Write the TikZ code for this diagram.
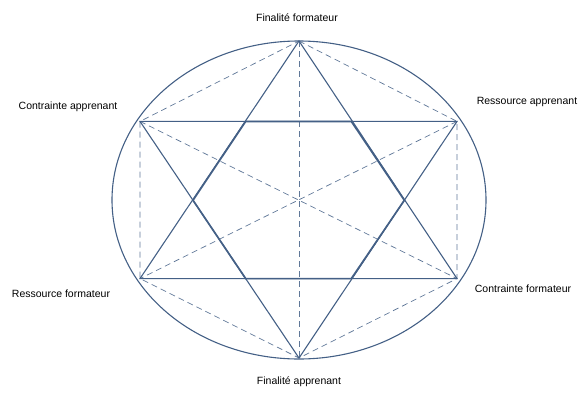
\documentclass[tikz,border=0pt]{standalone}
\usepackage{fontspec}
\setmainfont{Liberation Sans}
\usetikzlibrary{calc}
\usetikzlibrary{positioning}
\definecolor{steel}{RGB}{68,96,134}

\begin{document}
\begin{tikzpicture}[x=1pt, y=-1pt,
	lbl/.style = {font=\fontsize{10.5}{12}\selectfont, text=black, inner sep=1pt},
	tri/.style = {draw=steel, line width=1.1pt},
	hexa/.style = {draw=steel, line width=1.7pt},
	aux/.style = {draw=steel!85, line width=0.7pt, dash pattern=on 6pt off 4pt}
	]
	\useasboundingbox (0,0) rectangle (582,394);
	
	% === === Nodes === ===
	\coordinate	(ctr)	at	(299, 200);
	\coordinate	(top)	at	(299, 41);
	\coordinate	(bot)	at	(299, 358);
	\coordinate	(ul)	at	(140, 121.4);
	\coordinate	(ur)	at	(457, 121.4);
	\coordinate	(ll)	at	(140, 278.6);
	\coordinate	(lr)	at	(457, 278.6);
	
	\coordinate	(h1)	at	($(ul)!1/3!(ur)$);
	\coordinate	(h2)	at	($(ul)!2/3!(ur)$);
	\coordinate	(h3)	at	($(ur)!1/3!(bot)$);
	\coordinate	(h4)	at	($(ll)!2/3!(lr)$);
	\coordinate	(h5)	at	($(ll)!1/3!(lr)$);
	\coordinate	(h6)	at	($(ul)!1/3!(bot)$);
	
	\node[lbl]	(ftop)	at	(297, 18)	{Finalité formateur};
	\node[lbl]	(capp)	at	(68, 107)	{Contrainte apprenant};
	\node[lbl]	(rapp)	at	(527, 102)	{Ressource apprenant};
	\node[lbl]	(rfor)	at	(61, 294)	{Ressource formateur};
	\node[lbl]	(cfor)	at	(523, 289)	{Contrainte formateur};
	\node[lbl]	(fbot)	at	(299, 382)	{Finalité apprenant};
	
	
	% === === Lines === ===
	\draw[steel, line width=1.1pt]	(ctr)	ellipse	(187 and 159);
	
	\draw[aux]	(top)	--	(ur)	--	(lr)	--	(bot)	--	(ll)	--	(ul)	--	cycle;
	\draw[aux]	(top)	--	(bot);
	\draw[aux]	(ul)	--	(lr);
	\draw[aux]	(ur)	--	(ll);
	
	\draw[tri]	(top)	--	(lr)	--	(ll)	--	cycle;
	\draw[tri]	(bot)	--	(ul)	--	(ur)	--	cycle;
	
	\draw[hexa]	(h1)	--	(h2)	--	(h3)	--	(h4)	--	(h5)	--	(h6)	--	cycle;
	
\end{tikzpicture}
\end{document}
